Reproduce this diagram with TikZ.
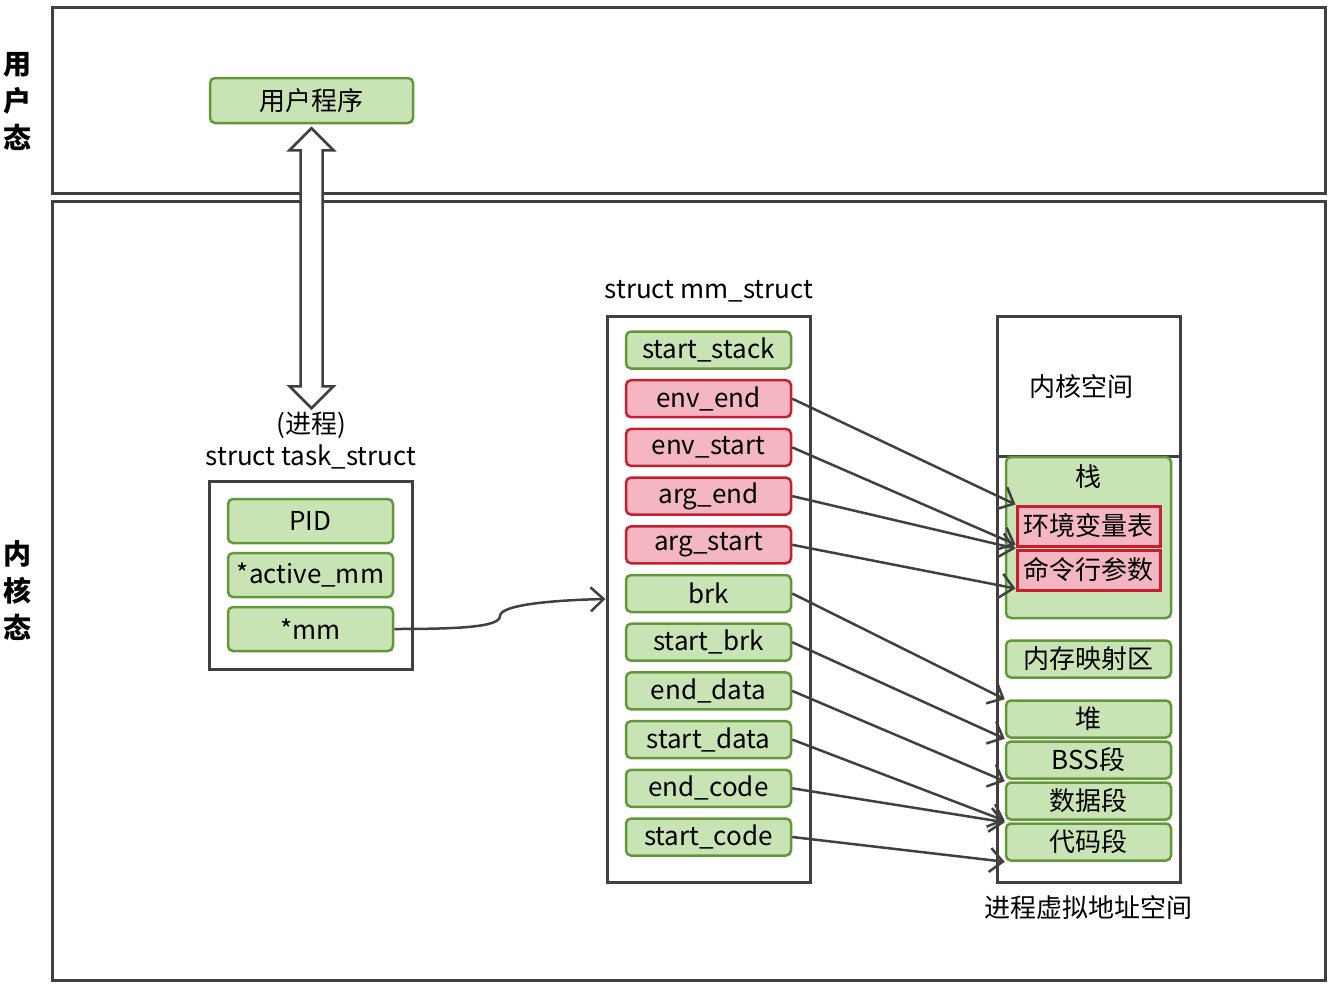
\documentclass[tikz,border=0pt]{standalone}
\usepackage{fontspec}
\setmainfont{Noto Sans CJK SC}
\usetikzlibrary{arrows.meta,calc}
\definecolor{framegray}{HTML}{404040}
\definecolor{fillgreen}{HTML}{C9E4B4}
\definecolor{linegreen}{HTML}{62983A}
\definecolor{fillred}{HTML}{F4B6C0}
\definecolor{linered}{HTML}{C81E32}
\begin{document}
\begin{tikzpicture}[x=1pt, y=-1pt, font=\fontsize{26}{32}\selectfont,
  frame box/.style={draw=framegray, line width=3pt},
  green field/.style={draw=linegreen, fill=fillgreen, line width=2.5pt, rounded corners=5pt, minimum width=165pt, minimum height=37pt, inner sep=0pt},
  red field/.style={green field, draw=linered, fill=fillred},
  red box/.style={draw=linered, fill=fillred, line width=3pt, minimum width=143pt, minimum height=40pt, inner sep=0pt},
  side label/.style={font=\fontsize{28}{37}\selectfont\bfseries, align=center},
  link/.style={draw=framegray, line width=2.5pt, -{Straight Barb[length=13pt,width=24pt]}},
  block arrow/.style={draw=framegray, line width=2.5pt, fill=white, line join=miter}]
\useasboundingbox (0,0) rectangle (1331,988);
\draw[frame box] (52,7) rectangle (1325,193);
\draw[frame box] (52,201) rectangle (1325,980);
\node[side label] (usermode) at (17,101) {用\\户\\态};
\node[side label] (kernelmode) at (17,591) {内\\核\\态};
\node[green field, minimum width=203pt, minimum height=45pt] (prog) at (311.5,100.5) {用户程序};
\node[frame box, minimum width=203pt, minimum height=188pt] (task) at (310.5,575) {};
\node[align=center] (tasktitle) at (311,441) {(进程)\\struct task\_struct};
\node[green field, minimum height=44pt] (pid) at (310.5,521) {PID};
\node[green field, minimum height=44pt] (amm) at (310.5,575) {*active\_mm};
\node[green field, minimum height=44pt] (mmp) at (310.5,629) {*mm};
\draw[block arrow] ($(prog.south)+(0,4)$) -- ++(22,22) -- ++(-11,0) -- ++(0,236) -- ++(11,0) -- ++(-22,22) -- ++(-22,-22) -- ++(11,0) -- ++(0,-236) -- ++(-11,0) -- cycle;
\node[frame box, minimum width=203pt, minimum height=566pt] (mm) at (708.5,599) {};
\node (mmtitle) at (709,291) {struct mm\_struct};
\foreach \n/\t/\s [count=\i from 0] in {ss/start\_stack/green field, ee/env\_end/red field, es/env\_start/red field, ae/arg\_end/red field, as/arg\_start/red field, brk/brk/green field, sb/start\_brk/green field, ed/end\_data/green field, sd/start\_data/green field, ec/end\_code/green field, sc/start\_code/green field}
  \node[\s] (\n) at (708.5,350+48.7*\i) {\t};
\node[frame box, minimum width=183pt, minimum height=566pt] (vas) at (1088.5,599) {};
\draw[frame box] (997,456) -- (1180,456);
\node (kspace) at (1081,387) {内核空间};
\node[green field, minimum height=161pt] (stack) at (1088.5,537.5) {};
\node (stacklabel) at (1088,477) {栈};
\node[red box] (envtab) at (1088.5,526) {环境变量表};
\node[red box] (cmdtab) at (1088.5,570) {命令行参数};
\node[green field] (mmap) at (1088.5,659) {内存映射区};
\node[green field] (heap) at (1088.5,719) {堆};
\node[green field] (bss) at (1088.5,760) {BSS段};
\node[green field] (data) at (1088.5,801) {数据段};
\node[green field] (code) at (1088.5,842) {代码段};
\node (vastitle) at (1088,908) {进程虚拟地址空间};
\draw[link] (mmp.east) .. controls (460,629) and (500,627) .. (500,616) .. controls (500,604) and (560,600) .. (mm.west);
\draw[link] (ee.east) -- (envtab.north west);
\draw[link] (es.east) -- ($(envtab.south west)+(0,-3)$);
\draw[link] (ae.east) -- (cmdtab.north west);
\draw[link] (as.east) -- ($(cmdtab.south west)+(0,-3)$);
\draw[link] (brk.east) -- (heap.north west);
\draw[link] (sb.east) -- (heap.south west);
\draw[link] (ed.east) -- (data.north west);
\draw[link] (sd.east) -- (data.south west);
\draw[link] (ec.east) -- (code.north west);
\draw[link] (sc.east) -- (code.south west);
\end{tikzpicture}
\end{document}
